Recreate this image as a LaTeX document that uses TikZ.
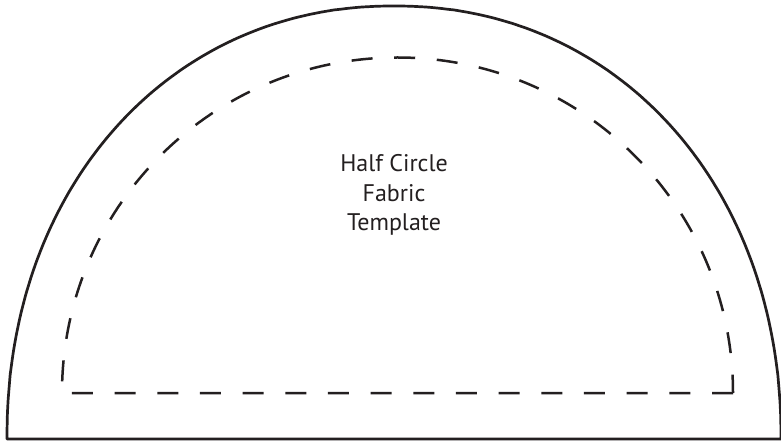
\documentclass[tikz,border=0pt]{standalone}
\usepackage{fontspec}
\setmainfont{PT Sans}
\definecolor{ink}{HTML}{231F20}
\begin{document}
\begin{tikzpicture}[x=1pt,y=1pt,
  outline/.style={draw=ink,line width=2.7pt,line join=round},
  seam/.style={draw=ink,line width=2.5pt,dash pattern=on 21pt off 21.67pt},
  label/.style={text=ink,font=\fontsize{24}{29}\selectfont,anchor=base,inner sep=0pt}]
\useasboundingbox (0,0) rectangle (781,442);
\fill[white] (0,0) rectangle (781,442);
% outer cutting line (slightly squarish half ellipse)
\coordinate (bl) at (7,3);
\coordinate (br) at (781,3);
\draw[outline] plot[domain=0:180,samples=240,smooth]
  ({394+387*sign(cos(\x))*pow(abs(cos(\x)),0.952)},{3+433*pow(abs(sin(\x)),0.952)}) -- cycle;
% inner seam line
\coordinate (sr) at (733,49);
\coordinate (sl) at (62,49);
\draw[seam] (sr) -- (sl) arc[start angle=180,end angle=0,radius=335.5];
% labels
\node[label] (t1) at (394,270.5) {Half Circle};
\node[label] (t2) at (394,240) {Fabric};
\node[label] (t3) at (394,211.5) {Template};
\end{tikzpicture}
\end{document}
